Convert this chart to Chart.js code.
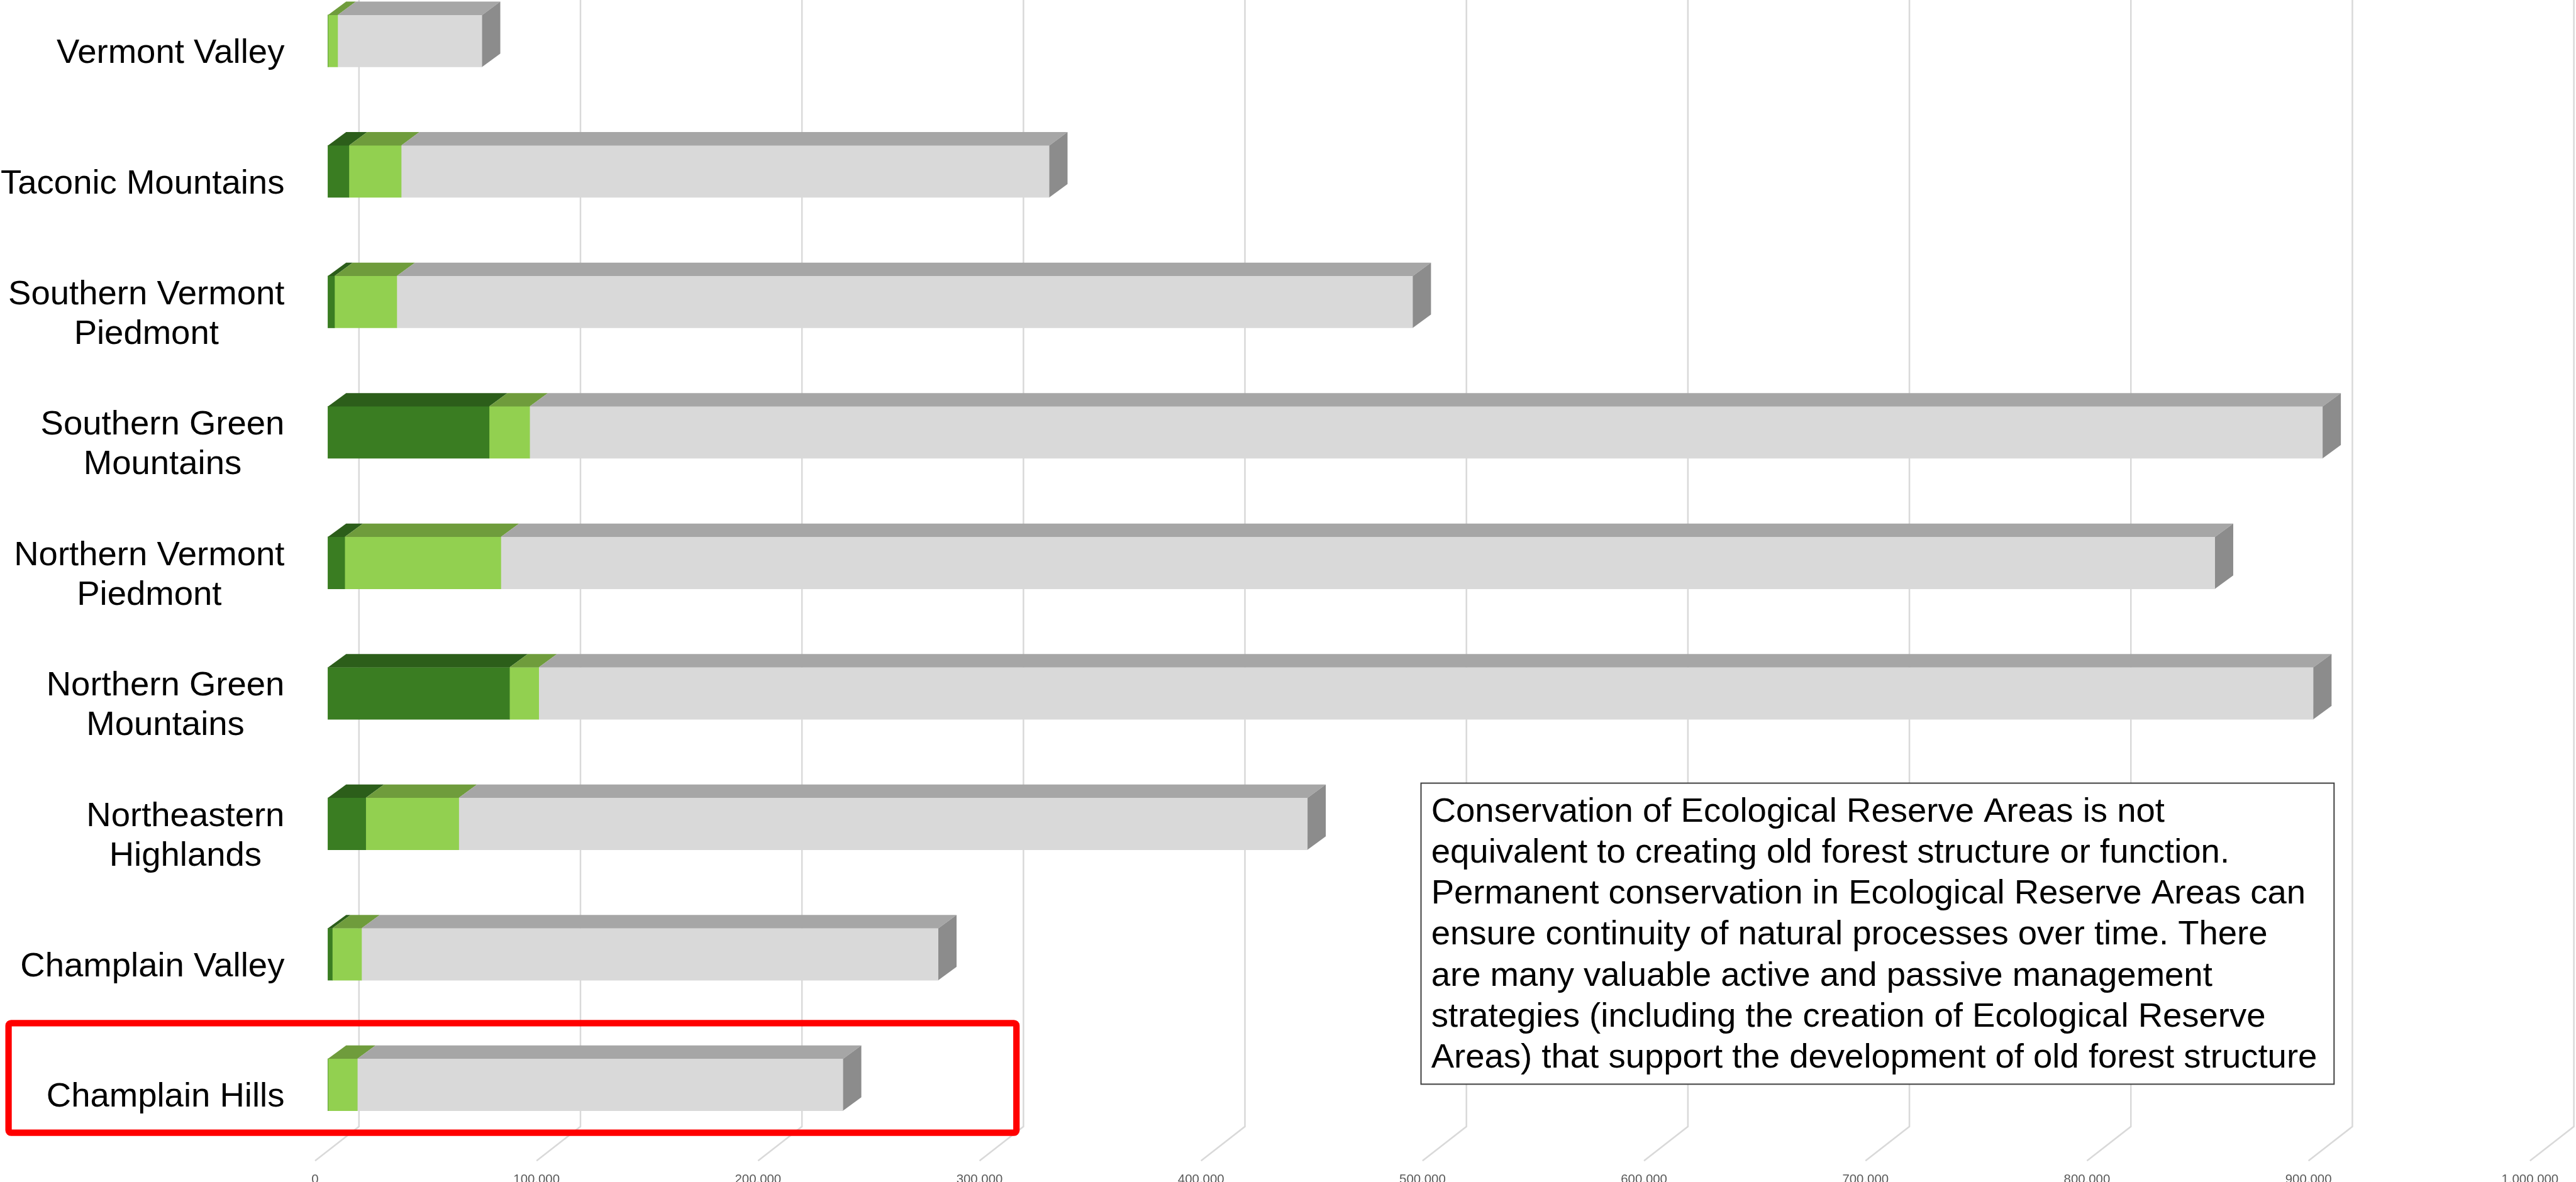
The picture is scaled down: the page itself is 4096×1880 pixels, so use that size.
<!DOCTYPE html>
<html lang="en">
<head>
    <meta charset="UTF-8">
    <title>Ecological Reserve Areas by Biophysical Region</title>
    <script src="https://cdn.jsdelivr.net/npm/chart.js@4.4.1/dist/chart.umd.min.js"></script>
    <style>
        html, body { margin: 0; padding: 0; background: #fff; }
        .chart-box { position: relative; width: 4096px; height: 1880px; }
    </style>
</head>
<body>
    <div class="chart-box">
        <canvas id="reserveChart"></canvas>
    </div>

    <script>
        // values (acres)
        const regions = [
            ['Vermont Valley'],
            ['Taconic Mountains'],
            ['Southern Vermont', 'Piedmont'],
            ['Southern Green', 'Mountains'],
            ['Northern Vermont', 'Piedmont'],
            ['Northern Green', 'Mountains'],
            ['Northeastern', 'Highlands'],
            ['Champlain Valley'],
            ['Champlain Hills']
        ];
        const reserveAcres = [0, 9500, 3000, 72800, 7600, 82000, 17100, 2000, 0];
        const otherConservedAcres = [4400, 23600, 28100, 18300, 70500, 13200, 42000, 13200, 13300];
        const remainingAcres = [65200, 292600, 458700, 809500, 773900, 801200, 383200, 260400, 219300];
        const xTicks = [0, 100000, 200000, 300000, 400000, 500000, 600000, 700000, 800000, 900000, 1000000];

        const noteLines = [
            'Conservation of Ecological Reserve Areas is not',
            'equivalent to creating old forest structure or function.',
            'Permanent conservation in Ecological Reserve Areas can',
            'ensure continuity of natural processes over time. There',
            'are many valuable active and passive management',
            'strategies (including the creation of Ecological Reserve',
            'Areas) that support the development of old forest structure'
        ];

        const FONT = "'Liberation Sans', Arial, sans-serif";
        const frontColors = ['#3a7d22', '#92d050', '#d9d9d9'];
        const topColors = ['#2c5e1a', '#6f9c3c', '#a6a6a6'];
        const sideColors = ['#2c5e1a', '#6f9c3c', '#8c8c8c'];
        const depth = { dx: 29, dy: 21.3 };

        // back wall grid lines, bending onto the floor at the bottom
        const wallGrid = {
            id: 'wallGrid',
            beforeDatasetsDraw(chart) {
                const ctx = chart.ctx;
                const xs = chart.scales.x;
                ctx.save();
                ctx.strokeStyle = '#d9d9d9';
                ctx.lineWidth = 2.5;
                xs.ticks.forEach(t => {
                    const px = xs.getPixelForValue(t.value);
                    ctx.beginPath();
                    ctx.moveTo(px + 49.4, 0);
                    ctx.lineTo(px + 49.4, 1791.8);
                    ctx.lineTo(px - 20.4, 1846.3);
                    ctx.stroke();
                });
                ctx.restore();
            }
        };

        // top and end faces of the 3D bars
        const bars3d = {
            id: 'bars3d',
            afterDatasetsDraw(chart) {
                const ctx = chart.ctx;
                const metas = chart.getSortedVisibleDatasetMetas();
                ctx.save();
                chart.data.labels.forEach((_, i) => {
                    let last = null;
                    metas.forEach(meta => {
                        const bar = meta.data[i];
                        const p = bar.getProps(['x', 'base', 'y', 'height'], true);
                        if (Math.abs(p.x - p.base) < 0.5) return;
                        const top = p.y - p.height / 2;
                        ctx.fillStyle = topColors[meta.index];
                        ctx.beginPath();
                        ctx.moveTo(p.base, top);
                        ctx.lineTo(p.base + depth.dx, top - depth.dy);
                        ctx.lineTo(p.x + depth.dx, top - depth.dy);
                        ctx.lineTo(p.x, top);
                        ctx.closePath();
                        ctx.fill();
                        last = { x: p.x, top: top, bottom: top + p.height, idx: meta.index };
                    });
                    if (last) {
                        ctx.fillStyle = sideColors[last.idx];
                        ctx.beginPath();
                        ctx.moveTo(last.x, last.top);
                        ctx.lineTo(last.x + depth.dx, last.top - depth.dy);
                        ctx.lineTo(last.x + depth.dx, last.bottom - depth.dy);
                        ctx.lineTo(last.x, last.bottom);
                        ctx.closePath();
                        ctx.fill();
                    }
                });
                ctx.restore();
            }
        };

        // category labels: block right aligned, lines centred inside the block
        const regionLabels = {
            id: 'regionLabels',
            afterDraw(chart) {
                const ctx = chart.ctx;
                const ys = chart.scales.y;
                const right = chart.chartArea.left - 69;
                const lineStep = 63;
                ctx.save();
                ctx.font = '54.5px ' + FONT;
                ctx.fillStyle = '#000';
                ctx.textAlign = 'center';
                ctx.textBaseline = 'alphabetic';
                chart.data.labels.forEach((lines, i) => {
                    const cy = ys.getPixelForValue(i) + 15.5;
                    const w = Math.max(...lines.map(l => ctx.measureText(l).width));
                    const cx = right - w / 2;
                    lines.forEach((l, k) => {
                        const lineMid = cy + (k - (lines.length - 1) / 2) * lineStep;
                        ctx.fillText(l, cx, lineMid + 19.5);
                    });
                });
                ctx.restore();
            }
        };

        // note box and red highlight
        const annotations = {
            id: 'annotations',
            afterDraw(chart) {
                const ctx = chart.ctx;
                ctx.save();
                ctx.fillStyle = '#fff';
                ctx.fillRect(2259.5, 1245.6, 1451.8, 478.8);
                ctx.strokeStyle = '#404040';
                ctx.lineWidth = 2;
                ctx.strokeRect(2259.5, 1245.6, 1451.8, 478.8);
                ctx.font = '54.5px ' + FONT;
                ctx.fillStyle = '#000';
                ctx.textAlign = 'left';
                ctx.textBaseline = 'alphabetic';
                noteLines.forEach((l, k) => ctx.fillText(l, 2275.7, 1306.8 + k * 65.2));

                ctx.strokeStyle = '#ff0000';
                ctx.lineWidth = 10.2;
                ctx.beginPath();
                ctx.roundRect(13.6, 1627.3, 1616.2 - 13.6, 1801.7 - 1627.3, 4);
                ctx.stroke();
                ctx.restore();
            }
        };

        function createChart(id) {
            return new Chart(document.getElementById(id), {
                type: 'bar',
                data: {
                    labels: regions,
                    datasets: [
                        { label: 'Ecological Reserve Areas', data: reserveAcres, backgroundColor: frontColors[0] },
                        { label: 'Other conserved', data: otherConservedAcres, backgroundColor: frontColors[1] },
                        { label: 'Remaining', data: remainingAcres, backgroundColor: frontColors[2] }
                    ]
                },
                options: {
                    indexAxis: 'y',
                    responsive: true,
                    maintainAspectRatio: false,
                    animation: false,
                    locale: 'en-US',
                    layout: { padding: { top: 65.2, right: 52.8, bottom: 0, left: 0 } },
                    datasets: { bar: { barThickness: 82.6, clip: false, borderWidth: 0 } },
                    plugins: { legend: { display: false }, tooltip: { enabled: false } },
                    scales: {
                        x: {
                            stacked: true,
                            min: 0,
                            max: 1000000,
                            afterBuildTicks: s => { s.ticks = xTicks.map(v => ({ value: v })); },
                            // fixed axis height; the large label padding must not eat into the plot width
                            afterFit: s => { s.height = 154.7; s.paddingLeft = 0; s.paddingRight = 0; },
                            grid: { display: false },
                            border: { display: false },
                            ticks: {
                                padding: 131,
                                labelOffset: -20.4,
                                autoSkip: false,
                                maxRotation: 0,
                                color: '#595959',
                                font: { family: FONT, size: 20.4 },
                                callback: v => Number(v).toLocaleString('en-US')
                            }
                        },
                        y: {
                            stacked: true,
                            offset: false,
                            afterFit: s => { s.width = 521.4; },
                            grid: { display: false },
                            border: { display: false },
                            ticks: { display: false }
                        }
                    }
                },
                plugins: [wallGrid, bars3d, regionLabels, annotations]
            });
        }

        createChart('reserveChart');
    </script>
</body>
</html>
